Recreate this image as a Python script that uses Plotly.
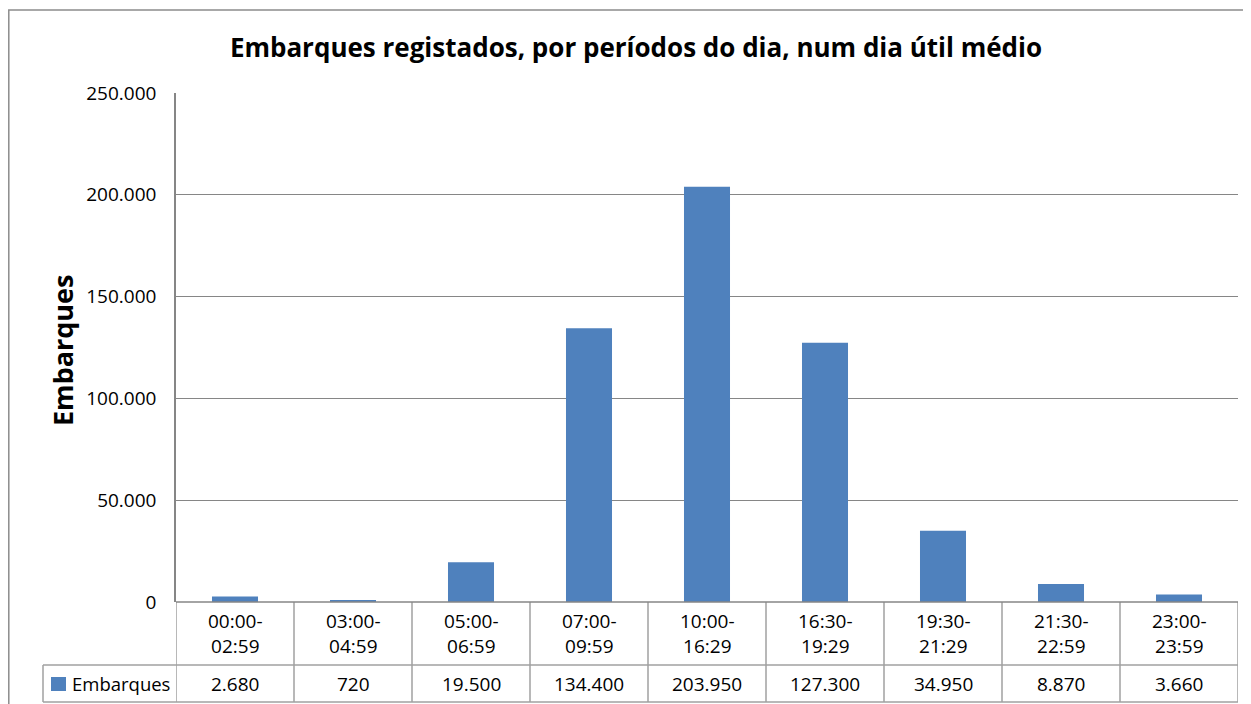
import plotly.graph_objects as go

categories = ["00:00-<br>02:59", "03:00-<br>04:59", "05:00-<br>06:59", "07:00-<br>09:59",
              "10:00-<br>16:29", "16:30-<br>19:29", "19:30-<br>21:29", "21:30-<br>22:59",
              "23:00-<br>23:59"]
values = [2680, 720, 19500, 134400, 203950, 127300, 34950, 8870, 3660]
series_name = "Embarques"
title_text = "Embarques registados, por períodos do dia, num dia útil médio"
y_ticks = [0, 50000, 100000, 150000, 200000, 250000]

FONT = "Open Sans, sans-serif"
BAR = "#4F81BD"
GRID = "#868686"
TBL = "#A0A0A0"

W, H = 1251, 704
OFF = 8  # page body margin

# page-pixel geometry of the plot area
P_LEFT, P_RIGHT, P_TOP, P_BOT = 176, 1238, 93, 602
L = P_LEFT - OFF
T = P_TOP - OFF
R = W - (P_RIGHT - OFF)
B = H - (P_BOT - OFF)
pw, ph = P_RIGHT - P_LEFT, P_BOT - P_TOP

def px_x(px):
    return (px - P_LEFT) / pw

def px_y(py):
    return (P_BOT - py) / ph

n = len(categories)
xs = list(range(n))

fig = go.Figure()
fig.add_trace(go.Bar(x=xs, y=values, marker=dict(color=BAR, line=dict(width=0)),
                     width=0.39, name=series_name, showlegend=False))

def fmt(v):
    return f"{v:,}".replace(",", ".")

shapes = []
annotations = []
row1_bot = px_y(665)
row2_bot = px_y(702)
for yy in (row1_bot, row2_bot):
    shapes.append(dict(type="line", xref="paper", yref="paper", x0=px_x(43), x1=1, y0=yy, y1=yy,
                       line=dict(color=TBL, width=1.5)))
shapes.append(dict(type="line", xref="paper", yref="paper", x0=px_x(43), x1=px_x(43), y0=row1_bot, y1=row2_bot,
                   line=dict(color=TBL, width=1.5)))
for i in range(n + 1):
    shapes.append(dict(type="line", xref="x", yref="paper", x0=i - 0.5, x1=i - 0.5, y0=0, y1=row2_bot,
                       line=dict(color=TBL, width=1.5)))
# legend swatch
shapes.append(dict(type="rect", xref="paper", yref="paper", x0=px_x(51), x1=px_x(66),
                   y0=px_y(691), y1=px_y(677), fillcolor=BAR, line=dict(width=0)))
# outer chart border
shapes.append(dict(type="rect", xref="paper", yref="paper", x0=px_x(OFF + 0.8), x1=px_x(1270),
                   y0=px_y(730), y1=px_y(10), line=dict(color="#8C8C8C", width=1.5),
                   fillcolor="rgba(0,0,0,0)", layer="below"))

for i, (c, v) in enumerate(zip(categories, values)):
    annotations.append(dict(x=i, y=(0 + row1_bot) / 2, xref="x", yref="paper", text=c,
                            showarrow=False, font=dict(family=FONT, size=19, color="#000"),
                            xanchor="center", yanchor="middle"))
    annotations.append(dict(x=i, y=(row1_bot + row2_bot) / 2, xref="x", yref="paper", text=fmt(v),
                            showarrow=False, font=dict(family=FONT, size=19, color="#000"),
                            xanchor="center", yanchor="middle"))
annotations.append(dict(x=px_x(70), y=(row1_bot + row2_bot) / 2, xref="paper", yref="paper",
                        text=series_name, showarrow=False, xanchor="left", yanchor="middle",
                        font=dict(family=FONT, size=18.5, color="#000")))
annotations.append(dict(x=px_x(62), y=px_y(350), xref="paper", yref="paper", text="<b>Embarques</b>",
                        textangle=-90, showarrow=False, xanchor="center", yanchor="middle",
                        font=dict(family=FONT, size=27, color="#000")))

fig.update_layout(
    width=W, height=H,
    margin=dict(l=L, r=R, t=T, b=B),
    paper_bgcolor="white", plot_bgcolor="white",
    separators=",.",
    title=dict(text="<b>" + title_text + "</b>", x=(636 - OFF) / W, xanchor="center",
               y=1 - (48 - OFF) / H, yanchor="middle", font=dict(family=FONT, size=26, color="#000")),
    xaxis=dict(range=[-0.5, n - 0.5], showticklabels=False, showgrid=False, zeroline=False,
               showline=False, ticks=""),
    yaxis=dict(range=[0, 250000], tickvals=y_ticks, tickformat=",d", showgrid=True, gridcolor=GRID,
               gridwidth=1, zeroline=False, showline=True, linecolor=GRID, linewidth=1.5,
               ticks="", ticklen=0, ticklabelstandoff=14,
               tickfont=dict(family=FONT, size=19, color="#000")),
    shapes=shapes, annotations=annotations,
    bargap=0.6,
)
fig.add_shape(type="line", xref="paper", yref="paper", x0=0, x1=1, y0=0, y1=0,
              line=dict(color=GRID, width=1.5))

fig.write_html("out.html")
